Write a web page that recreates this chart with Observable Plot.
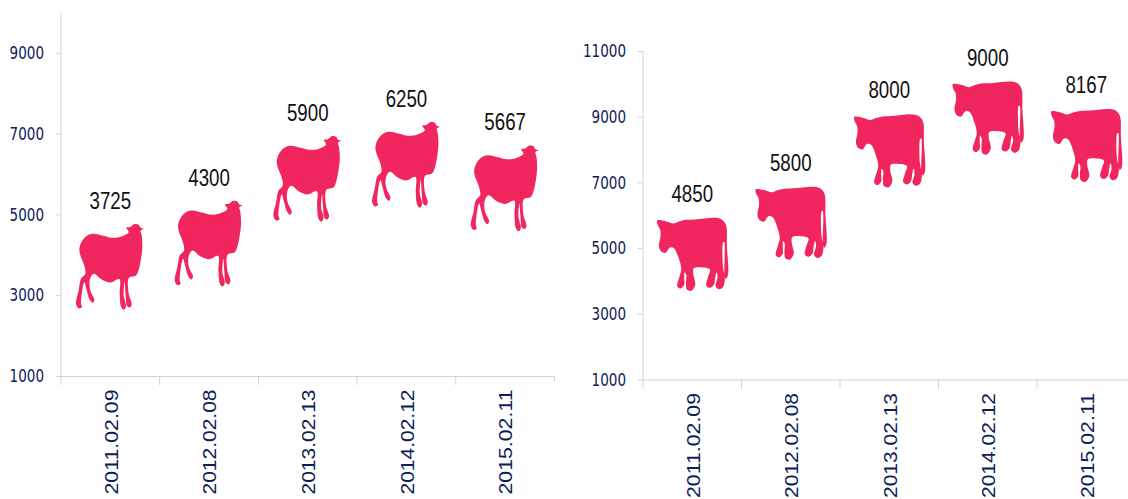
<!DOCTYPE html>
<html><head><meta charset="utf-8">
<script src="https://cdn.jsdelivr.net/npm/d3@7"></script>
<script src="https://cdn.jsdelivr.net/npm/@observablehq/plot@0.6"></script>
<style>
html,body{margin:0;padding:0;background:#fff;overflow:hidden;width:1128px;height:499px}
#root{display:flex;width:1128px;height:499px;overflow:hidden}
#root svg{flex:none;max-width:none;overflow:visible}
</style></head><body><div id="root"></div>
<script>
const dates = ["2011.02.09","2012.02.08","2013.02.13","2014.02.12","2015.02.11"];
const sheepValues = [3725,4300,5900,6250,5667];
const cowValues = [4850,5800,8000,9000,8167];
const sheepTicks = [1000,3000,5000,7000,9000];
const cowTicks = [1000,3000,5000,7000,9000,11000];
const pink = "#f1265f", navy = "#0c2058", axisColor = "#c6d4e3";

// silhouettes (offsets from the value's position, x3)
const sheepShape = [[250,145],[241,150],[244,165],[246,200],[242,235],[234,272],[226,286],[206,292],[205,340],[214,372],[208,381],[200,376],[196,345],[193,305],[190,345],[197,378],[190,388],[182,378],[178,340],[177,296],[150,306],[125,298],[100,280],[88,300],[90,330],[102,358],[97,367],[88,358],[78,325],[72,305],[62,370],[65,380],[55,384],[47,370],[55,330],[62,295],[75,280],[70,250],[60,225],[57,205],[66,180],[85,163],[100,160],[125,165],[155,172],[180,170],[205,155],[198,142],[210,140],[222,131],[235,133],[240,141]].map(([x,y])=>[(x-150)/3,(y-258)/3]);
const cowShape = [[260,125],[285,127],[308,134],[325,128],[345,123],[375,122],[430,117],[452,121],[466,138],[469,200],[472,290],[466,300],[462,292],[461,190],[458,190],[457,262],[463,300],[457,325],[445,331],[435,322],[441,295],[438,280],[434,295],[430,318],[418,327],[407,320],[412,295],[418,272],[395,266],[370,268],[368,285],[374,318],[362,336],[349,332],[346,315],[347,288],[342,280],[341,300],[341,318],[330,329],[320,322],[326,295],[332,272],[325,240],[310,208],[298,206],[285,222],[272,218],[265,202],[270,170],[268,150],[262,140]].map(([x,y])=>[(x-365)/3,(y-224)/3]);

const symbolOf = shape => ({draw(ctx,size){
  const k = Math.sqrt(size/Math.PI)/35;
  d3.line().curve(d3.curveCatmullRomClosed.alpha(0.5)).context(ctx)(shape.map(([x,y])=>[x*k,y*k]));
}});

function fit(svg, ariaLabel, family, size, lengthOf){
  svg.querySelectorAll(`[aria-label="${ariaLabel}"]`).forEach(g=>{
    g.setAttribute("font-family",family); g.style.fontFamily=family;
    g.setAttribute("font-size",size); g.style.fontSize=size+"px";
    g.querySelectorAll("text").forEach(t=>{
      t.setAttribute("textLength",lengthOf(t.textContent));
      t.setAttribute("lengthAdjust","spacingAndGlyphs");
    });
  });
}

function chart({values,ticks,shape,top,bottom,left,right,width,domain,labelDy}){
  const rows = dates.map((d,i)=>({date:d,value:values[i]}));
  const step = (width-left-right)/5;
  const svg = Plot.plot({
    width, height:499, marginLeft:left, marginRight:right, marginTop:top, marginBottom:bottom,
    style:{background:"transparent"},
    x:{type:"band",domain:dates,padding:0,round:false,label:null},
    y:{domain,label:null},
    marks:[
      Plot.frame({anchor:"left",stroke:axisColor,strokeOpacity:1}),
      Plot.frame({anchor:"bottom",stroke:axisColor,strokeOpacity:1}),
      Plot.axisY({ticks,tickSize:5,tickPadding:12,stroke:axisColor,strokeOpacity:1,fill:navy,tickFormat:d=>String(d),label:null}),
      Plot.axisX({tickSize:9,text:null,dx:-step/2,stroke:axisColor,strokeOpacity:1,label:null}),
      Plot.axisX({ticks:[dates[4]],tickSize:5,text:null,dx:step/2,stroke:axisColor,strokeOpacity:1,label:null}),
      Plot.axisX({tickSize:0,tickPadding:13,tickRotate:-90,fill:navy,label:null,dx:1.5}),
      Plot.dot(rows,{x:"date",y:"value",r:35,symbol:symbolOf(shape),fill:pink,stroke:"none"}),
      Plot.text(rows,{x:"date",y:"value",text:d=>String(d.value),dy:labelDy,fill:"#111"})
    ]
  });
  fit(svg,"y-axis tick label","'DejaVu Sans',sans-serif",18,s=>s.length*8.6);
  fit(svg,"x-axis tick label","'Liberation Sans',Arial,sans-serif",18,()=>105);
  fit(svg,"text","'Liberation Sans',Arial,sans-serif",23,s=>s.length*10.4);
  return svg;
}
const root = document.getElementById("root");
root.append(chart({values:sheepValues,ticks:sheepTicks,shape:sheepShape,top:12.4,bottom:123,left:60.5,right:10,width:564,domain:[1000,10000],labelDy:-65}));
root.append(chart({values:cowValues,ticks:cowTicks,shape:cowShape,top:51,bottom:119.5,left:78.5,right:0,width:571,domain:[1000,11000],labelDy:-59}));
</script></body></html>
